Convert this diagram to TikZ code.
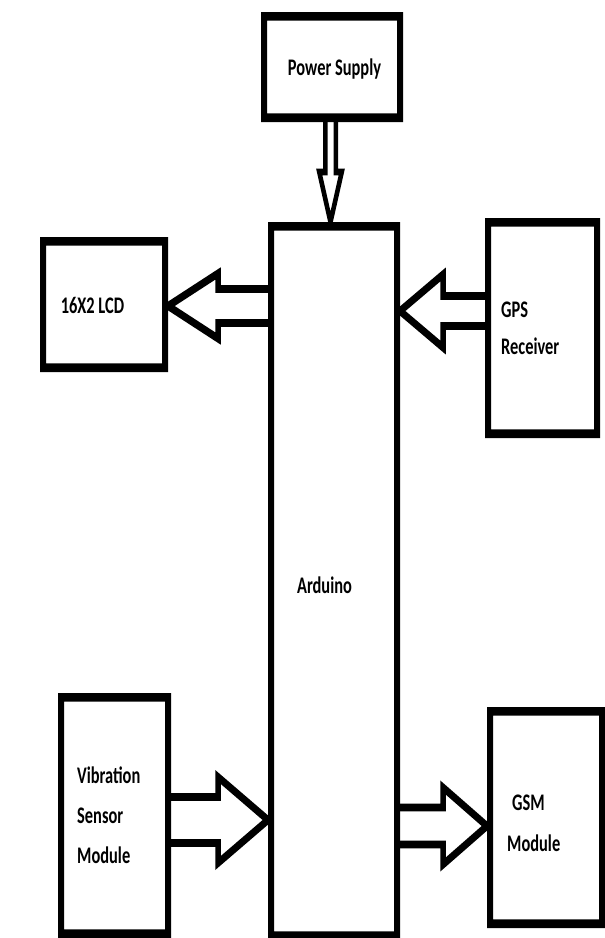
\documentclass[tikz,border=0pt]{standalone}
\usepackage{fontspec}
\setmainfont{Carlito}
\usetikzlibrary{calc}
\tikzset{
  boxshape/.style={rectangle, inner sep=0pt, outer sep=0pt},
  barrow/.style={draw=black, line width=5.5pt, line join=miter},
  lbl/.style={inner sep=0pt, text=black},
}
\newcommand\myframe[1]{%
  \fill[white] (#1.south west) rectangle (#1.north east);
  \fill[black, even odd rule] (#1.south west) rectangle (#1.north east)
    ([shift={(6pt,6pt)}]#1.south west) rectangle ([shift={(-6pt,-6pt)}]#1.north east);}
\newcommand\myharrow[6]{%
  \draw[barrow,#6] ($(#1)+(0,-#3)$) -- ($(#2)+(#5,-#3)$) -- ($(#2)+(#5,-#4)$) -- (#2)
    -- ($(#2)+(#5,#4)$) -- ($(#2)+(#5,#3)$) -- ($(#1)+(0,#3)$);}
\newcommand\myvarrow[6]{%
  \draw[barrow,#6] ($(#1)+(-#3,0)$) -- ($(#2)+(-#3,-#5)$) -- ($(#2)+(-#4,-#5)$) -- (#2)
    -- ($(#2)+(#4,-#5)$) -- ($(#2)+(#3,-#5)$) -- ($(#1)+(#3,0)$);}
\begin{document}
\begin{tikzpicture}
\fill[white] (0pt,0pt) rectangle (605pt,-938pt);
\useasboundingbox (0pt,0pt) rectangle (605pt,-938pt);
\begin{scope}[transform canvas={yscale=1.45}, x=1pt, y=-0.689655pt]
  % box outlines (positions only)
  \path node[boxshape, minimum width=142pt, minimum height=75.86pt] (power) at (332,67) {};
  \path node[boxshape, minimum width=132pt, minimum height=495.17pt] (ard) at (334,581) {};
  \path node[boxshape, minimum width=128pt, minimum height=93.10pt] (lcd) at (104,304.5) {};
  \path node[boxshape, minimum width=115pt, minimum height=151.72pt] (gps) at (542.5,328) {};
  \path node[boxshape, minimum width=113pt, minimum height=168.97pt] (vib) at (114.5,815.5) {};
  \path node[boxshape, minimum width=118pt, minimum height=152.41pt] (gsm) at (546,817.5) {};
  % block arrows
  \coordinate (lcdB) at ($(lcd.east)+(0,1.5)$);
  \coordinate (lcdA) at (ard.west |- lcdB);
  \myharrow{lcdA}{lcdB}{17}{32.5}{50}{}
  \coordinate (gpsA) at ($(gps.west)+(0,-17)$);
  \coordinate (gpsB) at (ard.east |- gpsA);
  \myharrow{gpsA}{gpsB}{15}{36.5}{43}{}
  \coordinate (vibA) at ($(vib.east)+(0,4.5)$);
  \coordinate (vibB) at (ard.west |- vibA);
  \myharrow{vibA}{vibB}{23}{43}{-50}{}
  \coordinate (gsmB) at ($(gsm.west)+(0,8.5)$);
  \coordinate (gsmA) at (ard.east |- gsmB);
  \myharrow{gsmA}{gsmB}{18.5}{38.5}{-44}{}
  \coordinate (pwA) at ($(power.south)+(-1.5,0)$);
  \coordinate (pwB) at (pwA |- ard.north);
  \myvarrow{pwA}{pwB}{5.25}{11.25}{50}{line width=4.5pt}
  % boxes
  \myframe{power}
  \myframe{ard}
  \myframe{lcd}
  \myframe{gps}
  \myframe{vib}
  \myframe{gsm}
  % labels
  \node[lbl, anchor=base, font=\fontsize{16.4}{19.7}\selectfont\bfseries] (pstxt) at (334.5,75) {Power Supply};
  \node[lbl, anchor=base, font=\fontsize{16.4}{19.7}\selectfont\bfseries] (ardtxt) at (324.5,593) {Arduino};
  \node[lbl, anchor=base, font=\fontsize{16.4}{19.7}\selectfont\bfseries] (lcdtxt) at (92.5,313) {16X2 LCD};
  \node[lbl, anchor=base west, font=\fontsize{16.4}{26.2}\selectfont\bfseries] (gpstxt) at (501,317)
    {\begin{tabular}[t]{@{}l@{}}GPS\\Receiver\end{tabular}};
  \node[lbl, anchor=base west, font=\fontsize{16.4}{27.6}\selectfont\bfseries] (vibtxt) at (77,783)
    {\begin{tabular}[t]{@{}l@{}}Vibration\\Sensor\\Module\end{tabular}};
  \node[lbl, anchor=base west, font=\fontsize{16.4}{28.3}\selectfont\bfseries] (gsmtxt) at (507,810)
    {\begin{tabular}[t]{@{}l@{}}\hspace*{5pt}GSM\\Module\end{tabular}};
\end{scope}
\end{tikzpicture}
\end{document}
